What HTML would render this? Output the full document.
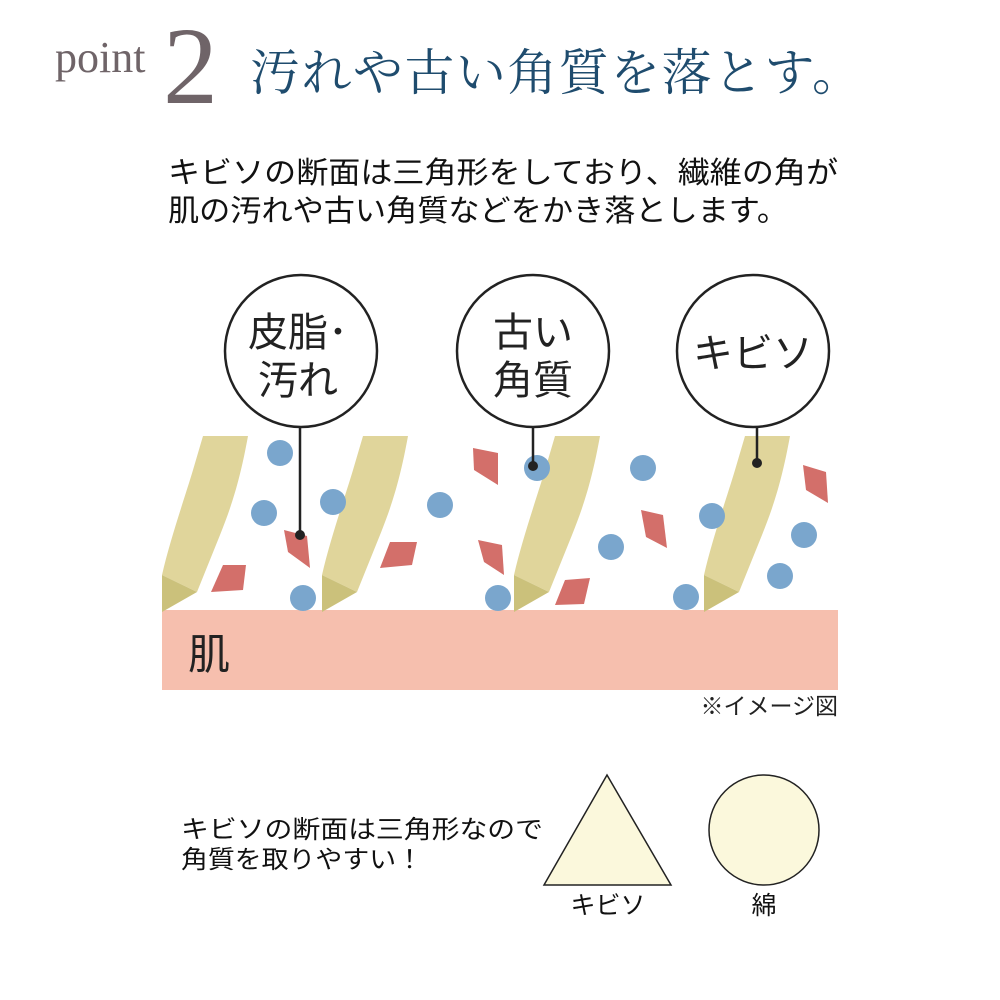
<!DOCTYPE html>
<html><head><meta charset="utf-8"><style>
body{margin:0;background:#fff;width:1000px;height:1000px;overflow:hidden}
svg{display:block}
</style></head><body>
<svg width="1000" height="1000" viewBox="0 0 1000 1000" xmlns="http://www.w3.org/2000/svg">
<g font-family="Liberation Serif, Noto Serif CJK SC, serif">
<text x="55" y="72" font-size="44" fill="#6f6468">point</text>
<text x="163" y="103" font-size="110" fill="#6f6468">2</text>
<text x="250" y="90" font-size="50" fill="#1f4c6e" textLength="612" lengthAdjust="spacing">汚れや古い角質を落とす。</text>
</g>
<g font-family="Liberation Sans, Noto Sans CJK JP, sans-serif" fill="#111">
<text x="168" y="183" font-size="30" textLength="670" lengthAdjust="spacingAndGlyphs">キビソの断面は三角形をしており、繊維の角が</text>
<text x="168" y="221" font-size="30" textLength="620" lengthAdjust="spacingAndGlyphs">肌の汚れや古い角質などをかき落とします。</text>
</g>
<!-- skin -->
<rect x="162" y="610" width="676" height="80" fill="#f6bfae"/>
<text x="188" y="669" font-size="42" font-family="Liberation Sans, Noto Sans CJK JP, sans-serif" fill="#222">肌</text>
<!-- fibers -->
<defs>
<g id="fib">
<path d="M203,436 L248,436 C240,480 232,505 220,535 L197,592 L162,575 C170,540 184,500 193,470 Z" fill="#e0d59b"/>
<path d="M162,575 L197,592 L162,612 Z" fill="#cbc17b"/>
</g>
</defs>
<use href="#fib"/>
<use href="#fib" x="160"/>
<use href="#fib" x="352"/>
<use href="#fib" x="542"/>
<!-- red bits -->
<g fill="#d36f6a">
<polygon points="223,565 246,565 243,590 211,592"/>
<polygon points="284,530 307,536 310,568 288,552"/>
<polygon points="390,542 417,542 412,565 380,568"/>
<polygon points="473,448 498,453 498,485 474,470"/>
<polygon points="478,540 502,545 504,575 484,562"/>
<polygon points="565,580 590,578 584,604 555,605"/>
<polygon points="641,510 663,515 667,548 646,537"/>
<polygon points="803,465 826,472 828,503 806,490"/>
</g>
<!-- blue dots -->
<g fill="#7aa6cd">
<circle cx="280" cy="453" r="13"/>
<circle cx="264" cy="513" r="13"/>
<circle cx="333" cy="502" r="13"/>
<circle cx="303" cy="598" r="13"/>
<circle cx="440" cy="505" r="13"/>
<circle cx="537" cy="468" r="13"/>
<circle cx="643" cy="468" r="13"/>
<circle cx="611" cy="547" r="13"/>
<circle cx="498" cy="598" r="13"/>
<circle cx="712" cy="516" r="13"/>
<circle cx="804" cy="535" r="13"/>
<circle cx="780" cy="576" r="13"/>
<circle cx="686" cy="597" r="13"/>
</g>
<!-- callouts -->
<g stroke="#222" stroke-width="2.5" fill="#fff">
<circle cx="301" cy="351" r="76"/>
<circle cx="533" cy="351" r="76"/>
<circle cx="753" cy="351" r="76"/>
<line x1="300" y1="427" x2="300" y2="535"/>
<line x1="533" y1="427" x2="533" y2="466"/>
<line x1="757" y1="427" x2="757" y2="463"/>
</g>
<g fill="#222">
<circle cx="300" cy="535" r="5"/>
<circle cx="533" cy="466" r="5"/>
<circle cx="757" cy="463" r="5"/>
</g>
<g font-family="Liberation Sans, Noto Sans CJK JP, sans-serif" fill="#222" font-size="40" text-anchor="middle">
<text x="298" y="346">皮脂･</text>
<text x="298" y="394">汚れ</text>
<text x="533" y="346">古い</text>
<text x="533" y="394">角質</text>
<text x="753" y="367">キビソ</text>
</g>
<text x="838" y="714" font-size="23" text-anchor="end" font-family="Liberation Sans, Noto Sans CJK JP, sans-serif" fill="#222">※イメージ図</text>
<g font-family="Liberation Sans, Noto Sans CJK JP, sans-serif" fill="#111">
<text x="181" y="838" font-size="25" textLength="362" lengthAdjust="spacingAndGlyphs">キビソの断面は三角形なので</text>
<text x="181" y="868" font-size="25" textLength="242" lengthAdjust="spacingAndGlyphs">角質を取りやすい！</text>
<text x="608" y="914" font-size="25" text-anchor="middle">キビソ</text>
<text x="764" y="914" font-size="25" text-anchor="middle">綿</text>
</g>
<polygon points="607,775 544,885 671,885" fill="#fbf8dc" stroke="#222" stroke-width="1.5"/>
<ellipse cx="764" cy="830" rx="55" ry="55" fill="#fbf8dc" stroke="#222" stroke-width="1.5"/>
</svg>
</body></html>
